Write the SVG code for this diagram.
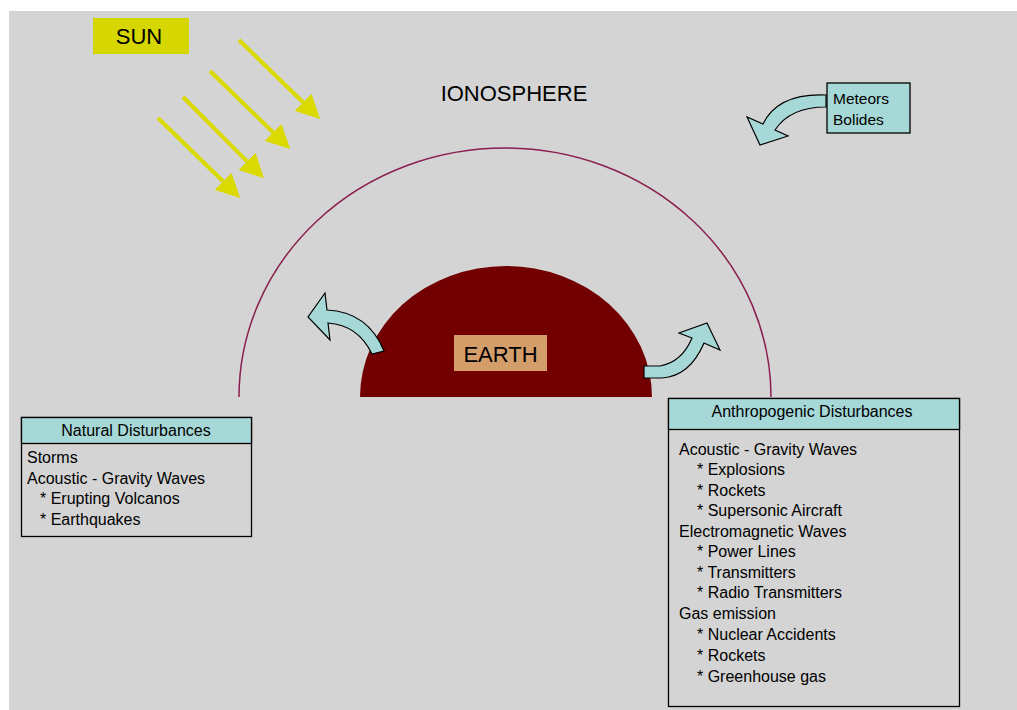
<svg xmlns="http://www.w3.org/2000/svg" width="1017" height="710" viewBox="0 0 1017 710">
<style>
text{font-family:"Liberation Sans",Arial,sans-serif;fill:#000}
.big{font-size:22px}
.body{font-size:16px}
.hdr{font-size:16px;text-anchor:middle}
.teal{fill:#A6D8D7;stroke:#000;stroke-width:1.3}
.box{fill:#D4D4D4;stroke:#000;stroke-width:1.3}
.ray{stroke:#DADA00;stroke-width:4;fill:none;marker-end:url(#rayhead)}
.block{fill:#A6D8D7;stroke:#000;stroke-width:1.2;stroke-linejoin:miter}
</style>
<defs>
<marker id="rayhead" markerUnits="userSpaceOnUse" markerWidth="24" markerHeight="24" viewBox="0 0 21 21" refX="0" refY="10.5" orient="auto">
<path d="M0,0 L21,10.5 L0,21 Z" fill="#DADA00"/>
</marker>
</defs>
<rect x="0" y="0" width="1017" height="710" fill="#FFFFFF"/>
<rect x="9" y="11" width="1008" height="699" fill="#D4D4D4"/>

<g id="ionosphere">
<path d="M239,397 A266,249 0 0 1 771,397" fill="none" stroke="#8A1F4F" stroke-width="1.5"/>
<text class="big" x="514" y="101" text-anchor="middle">IONOSPHERE</text>
</g>

<g id="sun">
<rect x="93" y="18" width="96" height="36" fill="#D6D600"/>
<text class="big" x="139" y="44" text-anchor="middle">SUN</text>
</g>

<g id="meteors">
<rect class="teal" x="827" y="83" width="83" height="50"/>
<text x="833" y="104" style="font-size:15.5px">Meteors</text>
<text x="833" y="125" style="font-size:15.5px">Bolides</text>
</g>

<g id="earth">
<path d="M360,397 A146,131 0 0 1 652,397 Z" fill="#720000"/>
<rect x="454" y="335" width="93" height="36" fill="#D49E6A"/>
<text class="big" x="500.5" y="362" text-anchor="middle">EARTH</text>
</g>

<g id="natural">
<rect class="box" x="21.5" y="417.5" width="230" height="119"/>
<rect class="teal" x="21.5" y="417.5" width="230" height="26"/>
<text class="hdr" x="136" y="436">Natural Disturbances</text>
<text class="body" x="27" y="463">Storms</text>
<text class="body" x="27" y="484">Acoustic - Gravity Waves</text>
<text class="body" x="40" y="504">* Erupting Volcanos</text>
<text class="body" x="40" y="525">* Earthquakes</text>
</g>

<g id="anthropogenic">
<rect class="box" x="668.5" y="398.5" width="291" height="308"/>
<rect class="teal" x="668.5" y="398.5" width="291" height="31"/>
<text class="hdr" x="812" y="417">Anthropogenic Disturbances</text>
<text class="body" x="679" y="455">Acoustic - Gravity Waves</text>
<text class="body" x="697" y="475">* Explosions</text>
<text class="body" x="697" y="496">* Rockets</text>
<text class="body" x="697" y="516">* Supersonic Aircraft</text>
<text class="body" x="679" y="537">Electromagnetic Waves</text>
<text class="body" x="697" y="557">* Power Lines</text>
<text class="body" x="697" y="578">* Transmitters</text>
<text class="body" x="697" y="598">* Radio Transmitters</text>
<text class="body" x="679" y="619">Gas emission</text>
<text class="body" x="697" y="640">* Nuclear Accidents</text>
<text class="body" x="697" y="661">* Rockets</text>
<text class="body" x="697" y="682">* Greenhouse gas</text>
</g>

<g id="connectors">
<line class="ray" x1="239" y1="40" x2="303" y2="102.3"/>
<line class="ray" x1="210" y1="71" x2="273" y2="132.3"/>
<line class="ray" x1="183" y1="97" x2="247" y2="161.3"/>
<line class="ray" x1="158" y1="118" x2="223" y2="181.3"/>
<path class="block" d="M826,95 Q778,93 763,124 L747,117 L760,145 L788,136 L775,130 Q790,107 826,107 Z"/>
<path class="block" d="M328,323 L330,340 L308,317 L325,293 L327,310 Q368,312 384,351 L372,354 Q358,325 328,323 Z"/>
<path class="block" d="M644,366 L660,366 Q682,362 692,338 L679,333 L707,323 L720,350 L704,343 Q690,376 662,378 L644,378 Z"/>
</g>
</svg>
